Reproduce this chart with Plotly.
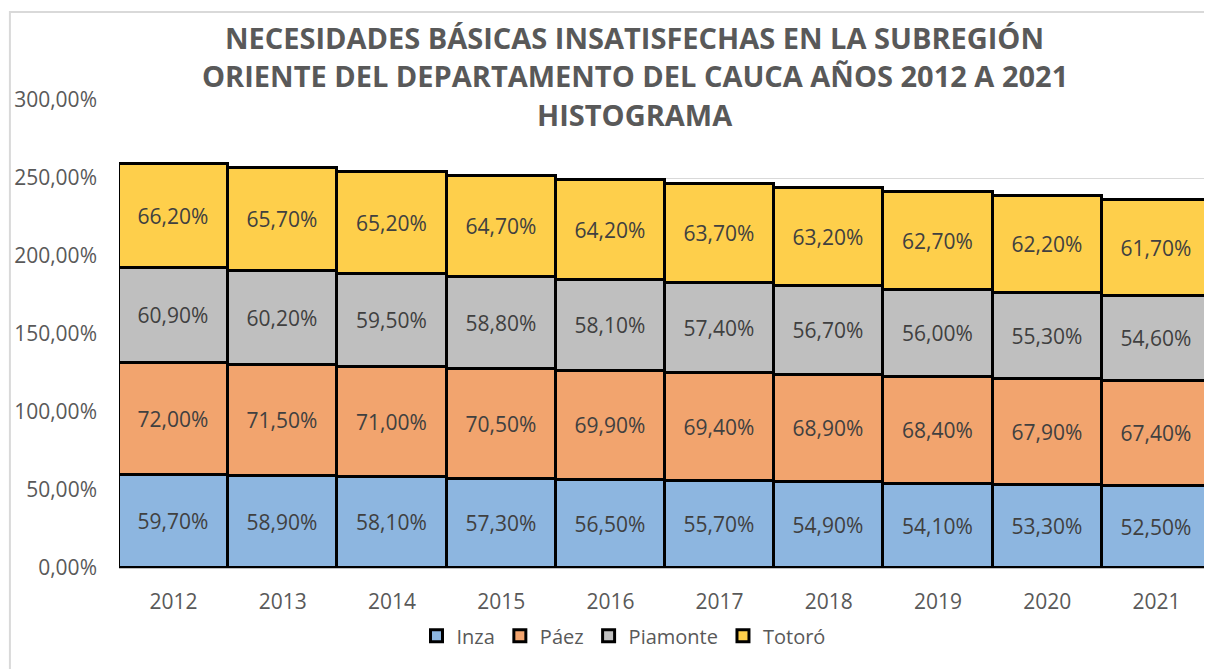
import plotly.graph_objects as go

years = ["2012", "2013", "2014", "2015", "2016", "2017", "2018", "2019", "2020", "2021"]
inza = [59.7, 58.9, 58.1, 57.3, 56.5, 55.7, 54.9, 54.1, 53.3, 52.5]
paez = [72.0, 71.5, 71.0, 70.5, 69.9, 69.4, 68.9, 68.4, 67.9, 67.4]
piamonte = [60.9, 60.2, 59.5, 58.8, 58.1, 57.4, 56.7, 56.0, 55.3, 54.6]
totoro = [66.2, 65.7, 65.2, 64.7, 64.2, 63.7, 63.2, 62.7, 62.2, 61.7]

title_lines = [
    "NECESIDADES BÁSICAS INSATISFECHAS EN LA SUBREGIÓN",
    "ORIENTE DEL DEPARTAMENTO DEL CAUCA AÑOS 2012 A 2021",
    "HISTOGRAMA",
]

series = [
    ("Inza", inza, "#8DB6E0"),
    ("Páez", paez, "#F2A46E"),
    ("Piamonte", piamonte, "#BFBFBF"),
    ("Totoró", totoro, "#FECF4B"),
]

fig = go.Figure()
for name, vals, color in series:
    fig.add_trace(go.Bar(
        x=years, y=vals, name=name,
        marker=dict(color=color, line=dict(color="black", width=3)),
        texttemplate="%{y:.2f}%", textposition="inside", insidetextanchor="middle",
        textfont=dict(family="Open Sans", size=21, color="#404040"),
        constraintext="none",
    ))

# page body adds an 8px offset; margins compensate
fig.update_layout(
    barmode="stack", bargap=0,
    separators=",.",
    width=1212, height=669,
    margin=dict(l=111, r=9, t=92, b=109, autoexpand=False),
    paper_bgcolor="white", plot_bgcolor="white",
    legend=dict(orientation="h", x=0.462, xanchor="center", y=-0.145, yanchor="middle",
                font=dict(family="Open Sans", size=20, color="#595959"),
                traceorder="normal"),
    showlegend=True,
)
title_y = [1.1346, 1.0513, 0.970]
for txt, yy in zip(title_lines, title_y):
    fig.add_annotation(text=txt, xref="paper", yref="paper", x=0.4725, y=yy,
                       xanchor="center", yanchor="middle", showarrow=False,
                       font=dict(family="Open Sans", size=29, color="#595959", weight="bold"))

fig.update_yaxes(range=[0, 300], dtick=50, tickformat=".2f", ticksuffix="%",
                 showgrid=True, gridcolor="#D9D9D9", gridwidth=1,
                 tickfont=dict(family="Open Sans", size=21, color="#595959"),
                 ticks="", zeroline=False, automargin=False, ticklabelstandoff=21)
fig.update_xaxes(showline=True, linecolor="#BFBFBF", linewidth=1,
                 tickfont=dict(family="Open Sans", size=21, color="#595959"),
                 ticks="", automargin=False, ticklabelstandoff=15)
fig.add_shape(type="rect", xref="paper", yref="paper", x0=-0.0999, x1=1.02, y0=-0.3, y1=1.188,
              line=dict(color="#D9D9D9", width=2), fillcolor="rgba(0,0,0,0)", layer="below")

fig.write_html("out.html")
